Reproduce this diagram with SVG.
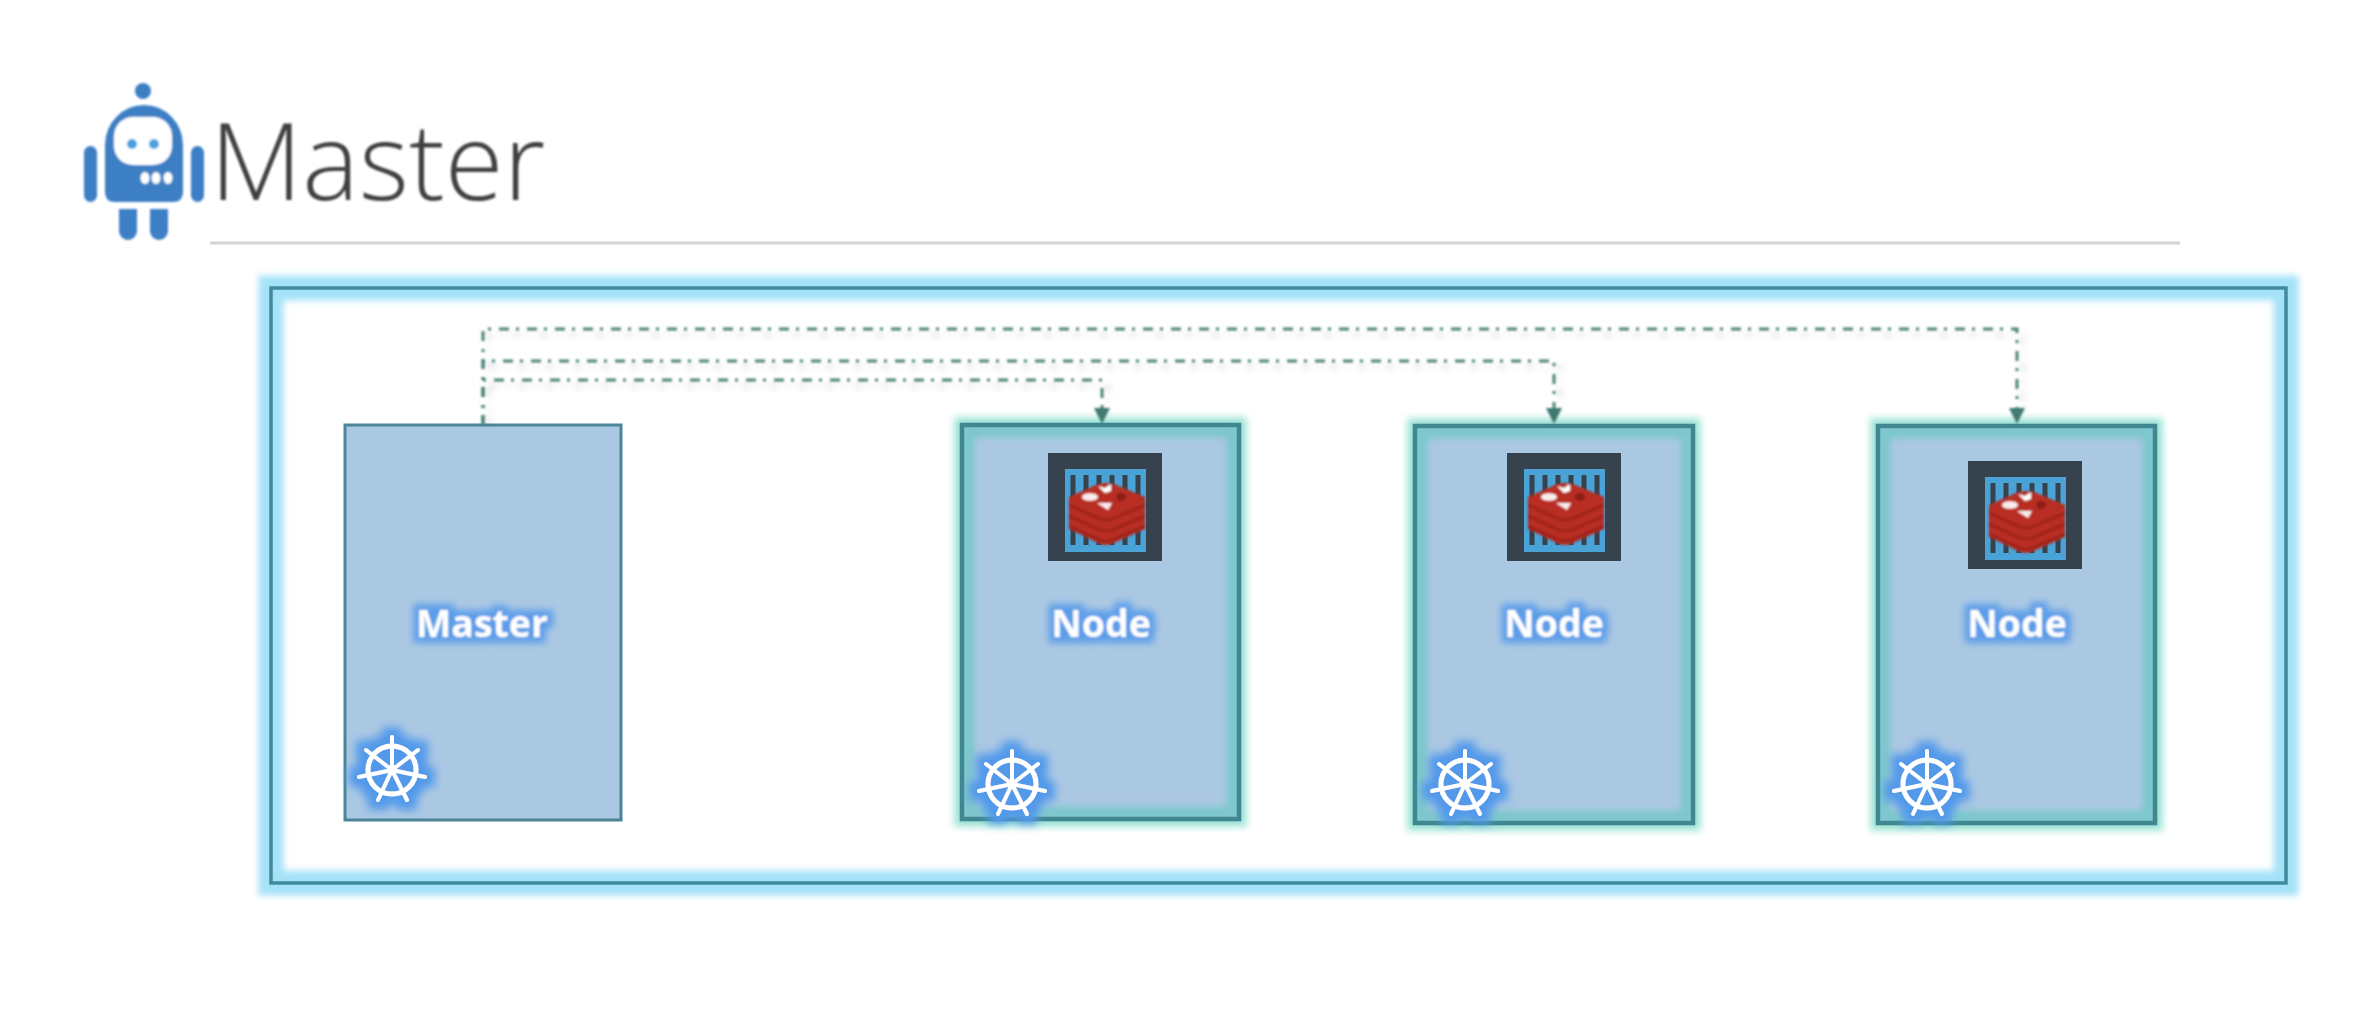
<svg xmlns="http://www.w3.org/2000/svg" width="2364" height="1036" viewBox="0 0 2364 1036">
<style>
.ttl{font-family:"Open Sans","Liberation Sans",sans-serif;font-weight:300;font-size:107px;fill:#404040}
.lbl{font-family:"Open Sans","Liberation Sans",sans-serif;font-weight:700;font-size:37.5px;fill:#fff;text-anchor:middle}
.bot{fill:#3d7fc4}
.fill{fill:#abc8e3}
.box{fill:#abc8e3;stroke:#4a8598;stroke-width:3}
.nodeline{fill:none;stroke:#3f8791;stroke-width:4.5}
.halo{fill:none;stroke:#a5e6d8;stroke-width:16;filter:url(#b4)}
.inner{fill:none;stroke:#7cc7cc;stroke-width:13;filter:url(#b3)}
.link{fill:none;stroke:#4d8379;stroke-width:3;stroke-dasharray:10 7 3 8}
.shadow{fill:none;stroke:#000;stroke-opacity:.1;stroke-width:4;filter:url(#b3);stroke-dasharray:10 7 3 8}
.wheel{fill:none;stroke:#fff;stroke-linecap:round}
.arrowhead{fill:#3f7a70}
</style>
<defs>
<filter id="b1" x="-20%" y="-20%" width="140%" height="140%"><feGaussianBlur stdDeviation="0.8"/></filter>
<filter id="b3" x="-10%" y="-10%" width="120%" height="120%"><feGaussianBlur stdDeviation="3"/></filter>
<filter id="b4" x="-10%" y="-10%" width="120%" height="120%"><feGaussianBlur stdDeviation="3.5"/></filter>
<filter id="glow" x="-40%" y="-60%" width="180%" height="220%">
<feMorphology in="SourceAlpha" operator="dilate" radius="6" result="d"/>
<feGaussianBlur in="d" stdDeviation="3.5" result="bl"/>
<feFlood flood-color="#5c9ee9"/>
<feComposite in2="bl" operator="in" result="c"/>
<feGaussianBlur in="SourceGraphic" stdDeviation="0.8" result="s"/>
<feMerge><feMergeNode in="c"/><feMergeNode in="s"/></feMerge>
</filter>
<filter id="glowW" x="-40%" y="-40%" width="180%" height="180%">
<feMorphology in="SourceAlpha" operator="dilate" radius="8" result="d"/>
<feGaussianBlur in="d" stdDeviation="4" result="bl"/>
<feFlood flood-color="#5299ea"/>
<feComposite in2="bl" operator="in" result="c"/>
<feGaussianBlur in="SourceGraphic" stdDeviation="0.7" result="s"/>
<feMerge><feMergeNode in="c"/><feMergeNode in="s"/></feMerge>
</filter>
<g id="wheel">
<g class="wheel" filter="url(#glowW)">
<circle r="24" stroke-width="5"/>
<circle r="3.5" stroke-width="3.5"/>
<path stroke-width="4" d="M0 0V-33M0 0L26-20M0 0L33 7M0 0L15 30M0 0L-14 30M0 0L-33 7M0 0L-26-20"/>
</g>
</g>
<g id="redis">
<rect width="114" height="108" fill="#36434f"/>
<rect x="17" y="16" width="81" height="83" fill="#4aa3d6"/>
<path d="M25 22V92M38 22V92M51 22V92M64 22V92M77 22V92M90 22V92" stroke="#36434f" stroke-width="5"/>
<g filter="url(#b1)">
<path d="M21 44L50 31Q58 29 66 31L97 44V76L66 90Q58 94 50 90L21 76Z" fill="#b82d22"/>
<path d="M21 52L52 66Q58 68 64 66L97 52M21 63L52 77Q58 79 64 77L97 63M21 73L52 87Q58 89 64 87L97 73" fill="none" stroke="#9c241b" stroke-width="2.5"/>
<ellipse cx="42" cy="44" rx="8" ry="3.8" fill="#fbeeee"/>
<path d="M50 33L57 35L63 31L63 38L57 40Z" fill="#fff"/>
<path d="M49 50L64 50L60 57Z" fill="#fbeeee"/>
<ellipse cx="73" cy="44" rx="5" ry="4" fill="#8c1f18"/>
</g>
</g>
</defs>
<rect width="2364" height="1036" fill="#fff"/>
<g id="logo" filter="url(#b1)">
<circle cx="143" cy="91" r="8" class="bot"/>
<path class="bot" d="M105 192V145A39 40 0 0 1 183 145V192Q183 202 173 202H115Q105 202 105 192Z"/>
<rect x="84" y="146" width="13" height="56" rx="6.5" class="bot"/>
<rect x="191" y="146" width="13" height="56" rx="6.5" class="bot"/>
<path class="bot" d="M119 209H137V231A9 9 0 0 1 119 231Z"/>
<path class="bot" d="M150 209H168V231A9 9 0 0 1 150 231Z"/>
<rect x="114" y="117" width="58" height="48" rx="19" fill="#fff"/>
<circle cx="132" cy="144" r="5" fill="#4aa0e0"/>
<circle cx="154" cy="144" r="5" fill="#4aa0e0"/>
<ellipse cx="145" cy="178" rx="4.5" ry="6" fill="#fff"/>
<ellipse cx="156" cy="178" rx="4.5" ry="6" fill="#fff"/>
<ellipse cx="168" cy="178" rx="4.5" ry="6" fill="#fff"/>
</g>
<text class="ttl" x="210" y="200" filter="url(#b1)">Master</text>
<rect x="210" y="241.5" width="1970" height="3" fill="#d4d4d4"/>
<g id="frame">
<rect x="271" y="288" width="2015" height="595" fill="none" stroke="#a5e2f8" stroke-width="25" filter="url(#b3)"/>
<rect x="271" y="288" width="2015" height="595" fill="none" stroke="#3f8a9c" stroke-width="3.5"/>
</g>
<g id="master">
<rect class="box" x="345" y="425" width="276" height="395"/>
<text class="lbl" x="482" y="637" filter="url(#glow)">Master</text>
<use href="#wheel" x="392" y="770"/>
</g>
<g id="node1">
<rect class="halo" x="962" y="425" width="277" height="394"/>
<rect class="fill" x="962" y="425" width="277" height="394"/>
<rect class="inner" x="968" y="431" width="265" height="382"/>
<rect class="nodeline" x="962" y="425" width="277" height="394"/>
<use href="#redis" x="1048" y="453"/>
<text class="lbl" x="1101" y="637" filter="url(#glow)">Node</text>
<use href="#wheel" x="1012" y="784"/>
</g>
<g id="node2">
<rect class="halo" x="1415" y="426" width="278" height="397"/>
<rect class="fill" x="1415" y="426" width="278" height="397"/>
<rect class="inner" x="1421" y="432" width="266" height="385"/>
<rect class="nodeline" x="1415" y="426" width="278" height="397"/>
<use href="#redis" x="1507" y="453"/>
<text class="lbl" x="1554" y="637" filter="url(#glow)">Node</text>
<use href="#wheel" x="1465" y="784"/>
</g>
<g id="node3">
<rect class="halo" x="1878" y="426" width="277" height="397"/>
<rect class="fill" x="1878" y="426" width="277" height="397"/>
<rect class="inner" x="1884" y="432" width="265" height="385"/>
<rect class="nodeline" x="1878" y="426" width="277" height="397"/>
<use href="#redis" x="1968" y="461"/>
<text class="lbl" x="2017" y="637" filter="url(#glow)">Node</text>
<use href="#wheel" x="1927" y="784"/>
</g>
<g id="connectors">
<path class="shadow" d="M489 425V335H2023V412M489 367H1560V412M489 386H1108V412"/>
<g filter="url(#b1)">
<path class="link" d="M483 425V329H2017V408"/>
<path class="link" d="M483 425V361H1554V408"/>
<path class="link" d="M483 425V380H1102V408"/>
<path class="arrowhead" d="M2009 408H2025L2017 424Z"/>
<path class="arrowhead" d="M1546 408H1562L1554 424Z"/>
<path class="arrowhead" d="M1094 408H1110L1102 424Z"/>
</g>
</g>
</svg>
